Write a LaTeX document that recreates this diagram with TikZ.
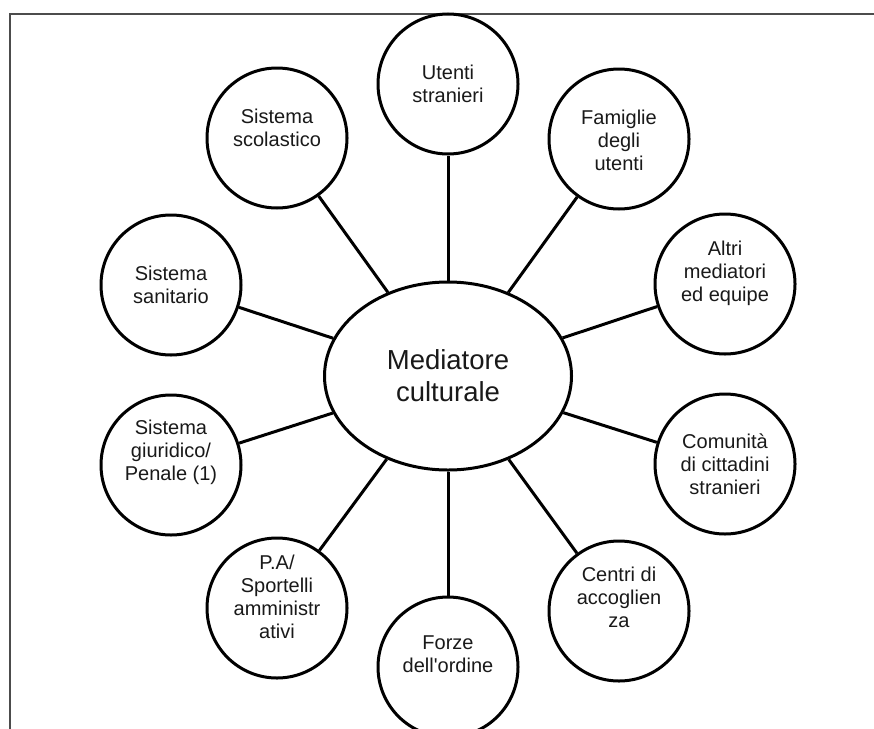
\documentclass[tikz,border=0pt]{standalone}
\usepackage{fontspec}
\setmainfont{Liberation Sans}[Ligatures=TeXOff]
\usetikzlibrary{shapes.geometric}
\begin{document}
\begin{tikzpicture}[x=1pt,y=-1pt,
  bubble/.style={draw=black,line width=3pt,circle,minimum size=140pt,inner sep=0pt,fill=white},
  hub/.style={draw=black,line width=3pt,ellipse,minimum width=247pt,minimum height=188pt,inner sep=0pt,fill=white,
    align=center,font=\fontsize{27.5}{32}\selectfont,text=black!90},
  caption/.style={align=center,inner sep=0pt,font=\fontsize{20}{23}\selectfont,text=black!90},
  link/.style={draw=black,line width=3pt}]
  % canvas and outer frame
  \useasboundingbox (0,0) rectangle (874,728);
  \fill[white] (0,0) rectangle (874,728);
  \draw[line width=2pt,draw=black!70] (10,14) rectangle (890,750);

  % central node
  \node[hub] (hub) at (448,376) {Mediatore\\culturale};

  % surrounding circles
  \node[bubble] (ute) at (448,84) {};
  \node[bubble] (fam) at (619,139) {};
  \node[bubble] (alt) at (725,284) {};
  \node[bubble] (com) at (725,464) {};
  \node[bubble] (cen) at (619,611) {};
  \node[bubble] (for) at (448,667) {};
  \node[bubble] (pa)  at (277,608) {};
  \node[bubble] (giu) at (171,465) {};
  \node[bubble] (san) at (171,285) {};
  \node[bubble] (sco) at (277,138) {};

  % connectors
  \foreach \n in {ute,fam,alt,com,cen,for,pa,giu,san,sco}
    \draw[link] (hub) -- (\n);

  % circle captions
  \node[caption] (uteT) at (448,84)  {Utenti\\stranieri};
  \node[caption] (famT) at (619,140) {Famiglie\\degli\\utenti};
  \node[caption] (altT) at (725,273) {Altri\\mediatori\\ed equipe};
  \node[caption] (comT) at (725,464) {Comunità\\di cittadini\\stranieri};
  \node[caption] (cenT) at (619,597) {Centri di\\accoglien\\za};
  \node[caption] (forT) at (448,654) {Forze\\dell'ordine};
  \node[caption] (paT)  at (277,597) {P.A/\\Sportelli\\amministr\\ativi};
  \node[caption] (giuT) at (171,452) {Sistema\\giuridico/\\Penale (1)};
  \node[caption] (sanT) at (171,285) {Sistema\\sanitario};
  \node[caption] (scoT) at (277,128) {Sistema\\scolastico};
\end{tikzpicture}
\end{document}
